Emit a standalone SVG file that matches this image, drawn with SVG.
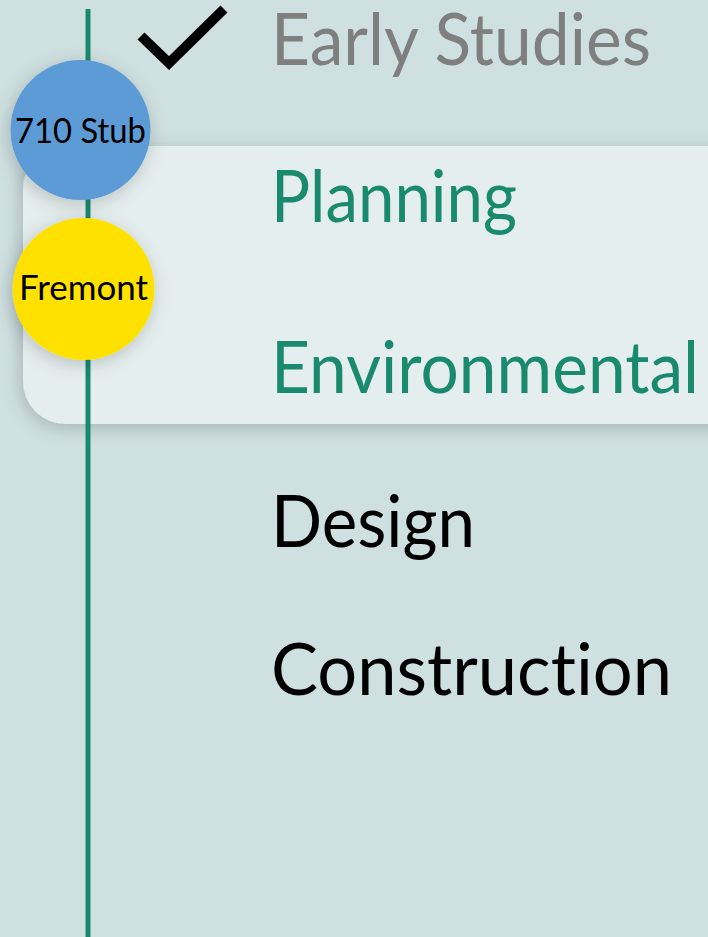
<svg xmlns="http://www.w3.org/2000/svg" width="708" height="937" viewBox="0 0 708 937">
<style>
.stage{font-family:"Lato","Open Sans","Liberation Sans",sans-serif;font-size:71px;font-variant-ligatures:none;}
.done{fill:#7f7f7f;}
.cur{fill:#1a8a6e;}
.todo{fill:#000000;}
.lbl{font-family:"Lato","Open Sans","Liberation Sans",sans-serif;font-size:34px;fill:#000;text-anchor:middle;font-variant-ligatures:none;}
</style>
<defs>
<filter id="sh" x="-40%" y="-40%" width="180%" height="180%">
<feDropShadow dx="-2" dy="4" stdDeviation="9" flood-color="#000" flood-opacity="0.2"/>
</filter>
</defs>
<rect x="0" y="0" width="708" height="937" fill="#cfe0e0"/>
<g id="highlight">
<rect x="23" y="146" width="740" height="278" rx="43" ry="43" fill="#e5eeee" filter="url(#sh)"/>
</g>
<g id="connectors">
<line x1="88" y1="9" x2="88" y2="937" stroke="#1a8a6e" stroke-width="5"/>
</g>
<g id="check">
<path d="M141,36 L169,63 L224,9" fill="none" stroke="#000" stroke-width="10" stroke-linejoin="miter"/>
</g>
<g id="stage-early"><text class="stage done" x="271" y="65" textLength="380" lengthAdjust="spacingAndGlyphs">Early Studies</text></g>
<g id="stage-planning"><text class="stage cur" x="271" y="222" textLength="246" lengthAdjust="spacingAndGlyphs">Planning</text></g>
<g id="stage-environmental"><text class="stage cur" x="271" y="393" textLength="428" lengthAdjust="spacingAndGlyphs">Environmental</text></g>
<g id="stage-design"><text class="stage todo" x="271" y="547" textLength="204" lengthAdjust="spacingAndGlyphs">Design</text></g>
<g id="stage-construction"><text class="stage todo" x="271" y="695" textLength="401" lengthAdjust="spacingAndGlyphs">Construction</text></g>
<g id="node-710">
<circle cx="80.5" cy="130" r="70" fill="#5b9bd5" filter="url(#sh)"/>
<text class="lbl" x="80.5" y="143" textLength="131" lengthAdjust="spacingAndGlyphs">710 Stub</text>
</g>
<g id="node-fremont">
<circle cx="83.5" cy="289" r="71" fill="#ffe100" filter="url(#sh)"/>
<text class="lbl" x="83.5" y="300" textLength="129" lengthAdjust="spacingAndGlyphs">Fremont</text>
</g>
</svg>
